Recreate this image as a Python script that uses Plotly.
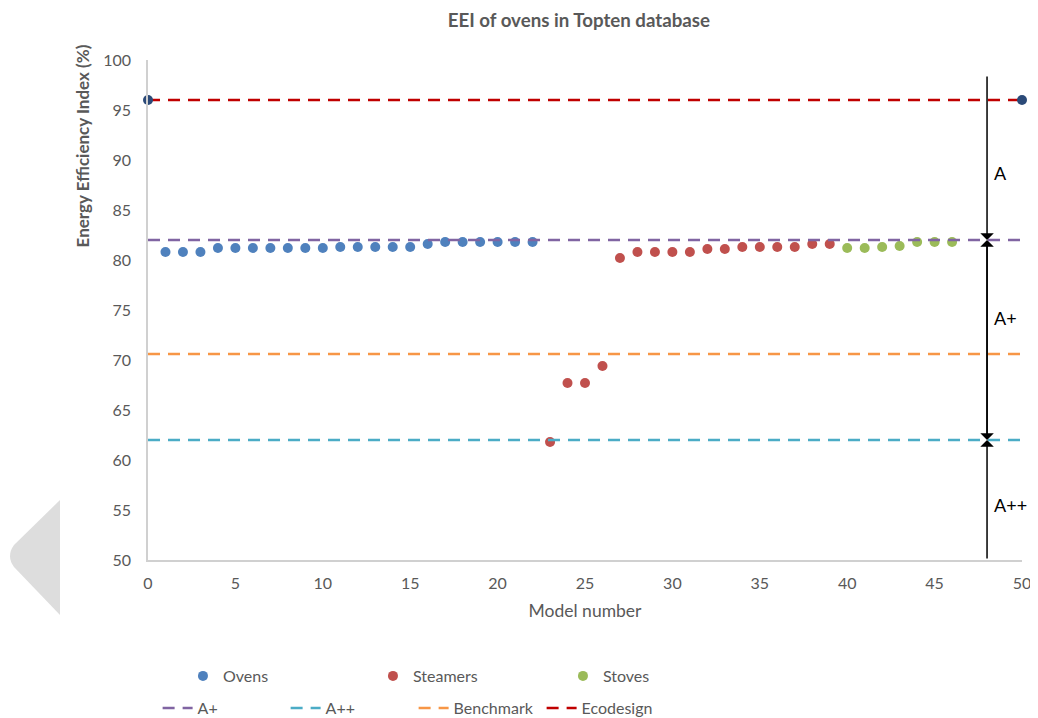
import plotly.graph_objects as go

# ---- data ----
ovens_x = list(range(1, 23))
ovens_y = [80.8, 80.8, 80.8, 81.2, 81.2, 81.2, 81.2, 81.2, 81.2, 81.2,
           81.3, 81.3, 81.3, 81.3, 81.3, 81.6, 81.8, 81.8, 81.8, 81.8, 81.8, 81.8]
steamers_x = list(range(23, 40))
steamers_y = [61.8, 67.7, 67.7, 69.4, 80.2, 80.8, 80.8, 80.8, 80.8, 81.1, 81.1,
              81.3, 81.3, 81.3, 81.3, 81.6, 81.6]
stoves_x = list(range(40, 47))
stoves_y = [81.2, 81.2, 81.3, 81.4, 81.8, 81.8, 81.8]

line_x = [0, 50]
aplus_level = 82
aplusplus_level = 62
benchmark_level = 70.6
ecodesign_level = 96

class_labels = ["A", "A+", "A++"]
class_label_y = [88.7, 74.2, 55.5]
arrow_x = 48.0

FONT = "Lato"
GRAY = "#595959"

fig = go.Figure()

# scatter series (legend 1)
fig.add_trace(go.Scatter(x=ovens_x, y=ovens_y, mode="markers", name="Ovens",
                         marker=dict(color="#4F81BD", size=10), legend="legend"))
fig.add_trace(go.Scatter(x=steamers_x, y=steamers_y, mode="markers", name="Steamers",
                         marker=dict(color="#C0504D", size=10), legend="legend"))
fig.add_trace(go.Scatter(x=stoves_x, y=stoves_y, mode="markers", name="Stoves",
                         marker=dict(color="#9BBB59", size=10), legend="legend"))

# reference lines (legend 2)
dash = "12px,8px"
fig.add_trace(go.Scatter(x=line_x, y=[aplus_level] * 2, mode="lines", name="A+",
                         line=dict(color="#8064A2", width=2.5, dash=dash), legend="legend2"))
fig.add_trace(go.Scatter(x=line_x, y=[aplusplus_level] * 2, mode="lines", name="A++",
                         line=dict(color="#4BACC6", width=2.5, dash=dash), legend="legend2"))
fig.add_trace(go.Scatter(x=line_x, y=[benchmark_level] * 2, mode="lines", name="Benchmark",
                         line=dict(color="#F79646", width=2.5, dash=dash), legend="legend2"))
fig.add_trace(go.Scatter(x=line_x, y=[ecodesign_level] * 2, mode="lines", name="Ecodesign",
                         line=dict(color="#C00000", width=2.5, dash=dash), legend="legend2"))
fig.add_trace(go.Scatter(x=line_x, y=[ecodesign_level] * 2, mode="markers", showlegend=False,
                         marker=dict(color="#2B4A78", size=10), cliponaxis=False))

# vertical arrow annotations
arrows = [(aplus_level, 98.5), (aplus_level, aplusplus_level),
          (aplusplus_level, aplus_level), (aplusplus_level, 50)]
for head, tail in arrows:
    fig.add_annotation(x=arrow_x, y=head, ax=arrow_x, ay=tail, xref="x", yref="y",
                       axref="x", ayref="y", showarrow=True, arrowhead=1,
                       arrowsize=1.5, arrowwidth=1.5, arrowcolor="black", text="")

for lab, yy in zip(class_labels, class_label_y):
    fig.add_annotation(x=arrow_x + 0.3, y=yy, xref="x", yref="y", text=lab,
                       showarrow=False, xanchor="left",
                       font=dict(family=FONT, size=18, color="black"))

# y-axis title
fig.add_annotation(x=-0.075, y=0.828, xref="paper", yref="paper",
                   xanchor="center", yanchor="middle",
                   text="<b>Energy Efficiency Index (%)</b>", textangle=-90,
                   showarrow=False, font=dict(family=FONT, size=17, color=GRAY))

# gray decorative shape at left (screen-pixel helpers; plot area 148..1022 x 60..560)
def px(X):
    return (X - 148) / 874
def py(Y):
    return (560 - Y) / 500
path = (f"M {px(60)},{py(500)} L {px(14)},{py(545)} "
        f"Q {px(6)},{py(556)} {px(14)},{py(567)} L {px(60)},{py(615)} Z")
fig.add_shape(type="path", path=path, xref="paper", yref="paper",
              fillcolor="#DDDDDD", line=dict(width=0), layer="below")

fig.update_layout(
    width=1030, height=710,
    margin=dict(l=140, r=16, t=52, b=158, autoexpand=False),
    paper_bgcolor="white", plot_bgcolor="white",
    title=dict(text="<b>EEI of ovens in Topten database</b>", x=0.493, xref="paper",
               y=1 - 12 / 710, yref="container", yanchor="middle",
               font=dict(family=FONT, size=18.7, color=GRAY)),
    font=dict(family=FONT, color=GRAY),
    xaxis=dict(range=[0, 50], tickmode="linear", tick0=0, dtick=5, showgrid=False,
               zeroline=False, showline=True, linecolor="#D0D0D0", linewidth=1.5,
               ticks="outside", ticklen=8, tickcolor="rgba(0,0,0,0)",
               tickfont=dict(size=16, color=GRAY),
               title=dict(text="Model number", font=dict(size=17.5, color=GRAY), standoff=14)),
    yaxis=dict(range=[50, 100], tickmode="linear", tick0=50, dtick=5, showgrid=False,
               zeroline=False, showline=True, linecolor="#D0D0D0", linewidth=1.5,
               ticks="outside", ticklen=12, tickcolor="rgba(0,0,0,0)",
               tickfont=dict(size=16, color=GRAY)),
    legend=dict(orientation="h", x=0.04, y=-0.232, xanchor="left", yanchor="middle",
                entrywidth=145, font=dict(family=FONT, size=16, color=GRAY),
                bgcolor="rgba(0,0,0,0)"),
    legend2=dict(orientation="h", x=0.011, y=-0.296, xanchor="left", yanchor="middle",
                 entrywidth=83, font=dict(family=FONT, size=16, color=GRAY),
                 bgcolor="rgba(0,0,0,0)", itemwidth=30),
)

fig.write_html("out.html")
